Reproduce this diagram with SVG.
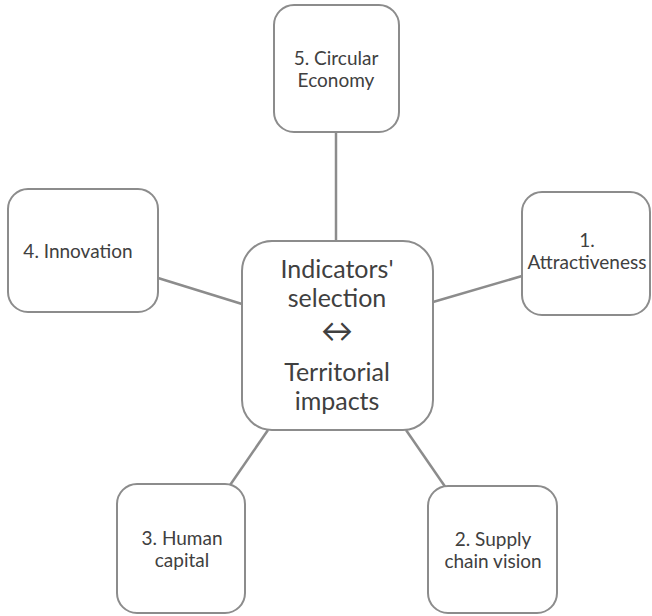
<svg xmlns="http://www.w3.org/2000/svg" width="652" height="616" viewBox="0 0 652 616">
<style>
.box{fill:#fff;stroke:#8c8c8c;stroke-width:2}
.line{stroke:#8c8c8c;stroke-width:2.5;fill:none}
text{font-family:Lato,"Open Sans","Liberation Sans",sans-serif;fill:#404040;text-anchor:middle}
.s{font-size:19px}
.c{font-size:25px}
.a{font-size:32px}
</style>
<rect width="652" height="616" fill="#fff"/>
<g id="connectors">
<line class="line" x1="336" y1="132" x2="336" y2="241"/>
<line class="line" x1="433" y1="302" x2="522" y2="276"/>
<line class="line" x1="158" y1="278" x2="242" y2="304"/>
<line class="line" x1="268" y1="430" x2="228" y2="488"/>
<line class="line" x1="406" y1="430" x2="446" y2="488"/>
</g>
<g id="center">
<rect class="box" x="242" y="241" width="191" height="189" rx="30"/>
<text class="c" x="337" y="278">Indicators'</text>
<text class="c" x="337" y="307">selection</text>
<text class="a" x="337" y="342">↔</text>
<text class="c" x="337" y="381">Territorial</text>
<text class="c" x="337" y="410">impacts</text>
</g>
<g id="n5">
<rect class="box" x="274" y="5" width="125" height="127" rx="20"/>
<text class="s" x="336" y="65">5. Circular</text>
<text class="s" x="336" y="87">Economy</text>
</g>
<g id="n1">
<rect class="box" x="522" y="192" width="128" height="123" rx="20"/>
<text class="s" x="587" y="247">1.</text>
<text class="s" x="587" y="269">Attractiveness</text>
</g>
<g id="n4">
<rect class="box" x="8" y="189" width="150" height="123" rx="20"/>
<text class="s" x="78" y="258">4. Innovation</text>
</g>
<g id="n3">
<rect class="box" x="117" y="484" width="128" height="129" rx="20"/>
<text class="s" x="182" y="545">3. Human</text>
<text class="s" x="182" y="567">capital</text>
</g>
<g id="n2">
<rect class="box" x="428" y="486" width="129" height="127" rx="20"/>
<text class="s" x="493" y="546">2. Supply</text>
<text class="s" x="493" y="568">chain vision</text>
</g>
</svg>
